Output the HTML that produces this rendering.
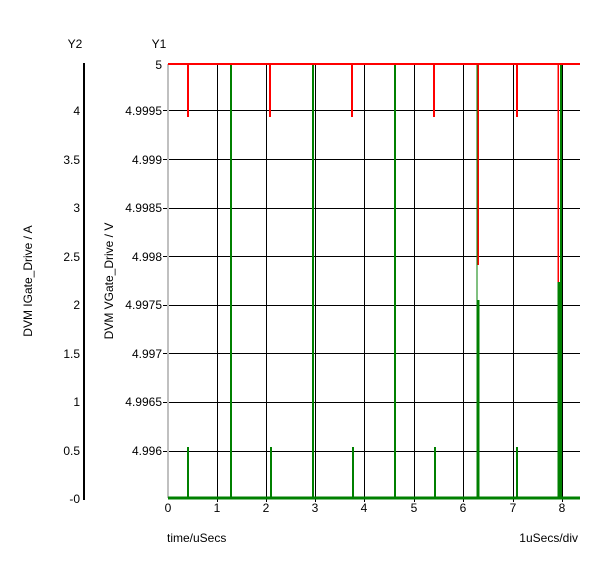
<!DOCTYPE html>
<html><head><style>body{margin:0;background:#fff}</style></head><body>
<svg width="600" height="563" xmlns="http://www.w3.org/2000/svg" font-family="Liberation Sans, sans-serif" font-size="12" fill="#000" shape-rendering="crispEdges">
<rect width="600" height="563" fill="#fff"/>
<text x="75" y="48" text-anchor="middle">Y2</text>
<text x="159" y="48" text-anchor="middle">Y1</text>
<line x1="84" y1="63" x2="84" y2="500" stroke="#000" stroke-width="2"/>
<g text-anchor="end">
<text x="80" y="115">4</text><text x="80" y="164">3.5</text><text x="80" y="212">3</text><text x="80" y="261">2.5</text><text x="80" y="309">2</text><text x="80" y="358">1.5</text><text x="80" y="406">1</text><text x="80" y="455">0.5</text><text x="80" y="503">-0</text>
<text x="162" y="69">5</text><text x="162" y="115">4.9995</text><text x="162" y="164">4.999</text><text x="162" y="212">4.9985</text><text x="162" y="261">4.998</text><text x="162" y="309">4.9975</text><text x="162" y="358">4.997</text><text x="162" y="406">4.9965</text><text x="162" y="455">4.996</text>
</g>
<text transform="translate(32,281) rotate(-90)" text-anchor="middle">DVM IGate_Drive / A</text>
<text transform="translate(113,281) rotate(-90)" text-anchor="middle">DVM VGate_Drive / V</text>
<g stroke="#000" stroke-width="1">
<line x1="163" y1="110.5" x2="580" y2="110.5"/><line x1="163" y1="159.5" x2="580" y2="159.5"/><line x1="163" y1="208.5" x2="580" y2="208.5"/><line x1="163" y1="256.5" x2="580" y2="256.5"/><line x1="163" y1="305.5" x2="580" y2="305.5"/><line x1="163" y1="353.5" x2="580" y2="353.5"/><line x1="163" y1="402.5" x2="580" y2="402.5"/><line x1="163" y1="451.5" x2="580" y2="451.5"/>
<line x1="217.5" y1="64" x2="217.5" y2="502"/><line x1="266.5" y1="64" x2="266.5" y2="502"/><line x1="315.5" y1="64" x2="315.5" y2="502"/><line x1="364.5" y1="64" x2="364.5" y2="502"/><line x1="414.5" y1="64" x2="414.5" y2="502"/><line x1="463.5" y1="64" x2="463.5" y2="502"/><line x1="513.5" y1="64" x2="513.5" y2="502"/><line x1="562.5" y1="64" x2="562.5" y2="502"/>
</g>
<line x1="168" y1="64" x2="168" y2="498" stroke="#c0c0c0" stroke-width="2"/>
<g text-anchor="middle">
<text x="168" y="512">0</text><text x="217" y="512">1</text><text x="266" y="512">2</text><text x="315" y="512">3</text><text x="364" y="512">4</text><text x="414" y="512">5</text><text x="463" y="512">6</text><text x="513" y="512">7</text><text x="562" y="512">8</text>
</g>
<text x="167" y="542">time/uSecs</text>
<text x="578" y="542" text-anchor="end">1uSecs/div</text>
<g stroke="#008000" stroke-width="2">
<line x1="168" y1="498" x2="580" y2="498" stroke-width="3"/>
<line x1="188" y1="447" x2="188" y2="498"/><line x1="231" y1="64" x2="231" y2="498"/><line x1="271" y1="447" x2="271" y2="498"/><line x1="313" y1="64" x2="313" y2="498"/><line x1="353" y1="447" x2="353" y2="498"/><line x1="395" y1="64" x2="395" y2="498"/><line x1="435" y1="447" x2="435" y2="498"/><line x1="478" y1="300" x2="478" y2="498" stroke-width="3"/><line x1="477" y1="64" x2="477" y2="300" stroke-width="1"/><line x1="517" y1="447" x2="517" y2="498"/><line x1="559" y1="282" x2="559" y2="498" stroke-width="3"/><line x1="561" y1="64" x2="561" y2="498"/>
</g>
<g stroke="#ff0000" stroke-width="2">
<line x1="168" y1="64" x2="580" y2="64"/>
<line x1="188" y1="64" x2="188" y2="117"/><line x1="270" y1="64" x2="270" y2="117"/><line x1="352" y1="64" x2="352" y2="117"/><line x1="434" y1="64" x2="434" y2="117"/><line x1="517" y1="64" x2="517" y2="117"/>
<line x1="478" y1="64" x2="478" y2="265" stroke-width="1.5"/><line x1="558" y1="64" x2="558" y2="282" stroke-width="1.5"/>
</g>
</svg>
</body></html>
